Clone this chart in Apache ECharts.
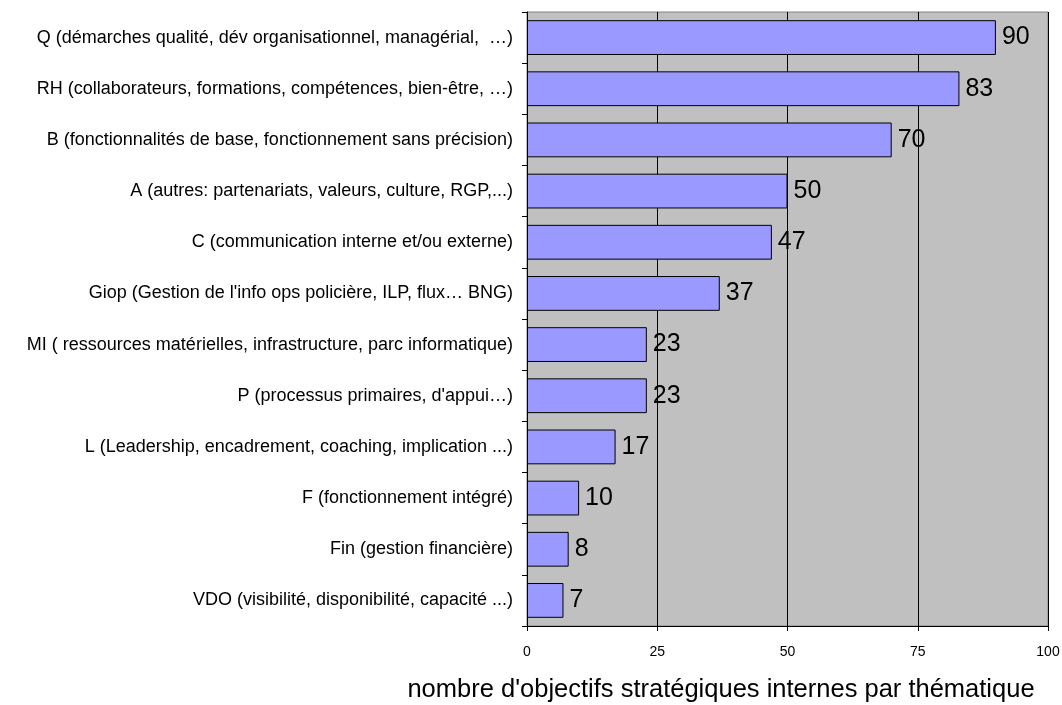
<!DOCTYPE html>
<html>
<head>
<meta charset="utf-8">
<script src="https://cdn.jsdelivr.net/npm/echarts@6/dist/echarts.min.js"></script>
<style>
  html, body { margin: 0; padding: 0; background: #fff; }
  #main { width: 1062px; height: 705px; }
</style>
</head>
<body>
<div id="main"></div>
<script>
var chartDom = document.getElementById('main');
var myChart = echarts.init(chartDom);
var option;

// categories from bottom to top
var categories = [
    "VDO (visibilité, disponibilité, capacité ...)",
    "Fin (gestion financière)",
    "F (fonctionnement intégré)",
    "L (Leadership, encadrement, coaching, implication ...)",
    "P (processus primaires, d'appui…)",
    "MI ( ressources matérielles, infrastructure, parc informatique)",
    "Giop (Gestion de l'info ops policière, ILP, flux… BNG)",
    "C (communication interne et/ou externe)",
    "A (autres: partenariats, valeurs, culture, RGP,...)",
    "B (fonctionnalités de base, fonctionnement sans précision)",
    "RH (collaborateurs, formations, compétences, bien-être, …)",
    "Q (démarches qualité, dév organisationnel, managérial,  …)"
];
var values = [7, 8, 10, 17, 23, 23, 37, 47, 50, 70, 83, 90];
var xTicks = [0, 25, 50, 75, 100];
var axisTitle = "nombre d'objectifs stratégiques internes par thématique";

var font = 'Liberation Sans, Arial, sans-serif';

option = {
    backgroundColor: '#ffffff',
    animation: false,
    textStyle: { fontFamily: font },
    grid: {
        left: 527,
        right: 14,
        top: 12,
        bottom: 79,
        outerBoundsMode: 'none',
        containLabel: false,
        show: true,
        backgroundColor: '#c0c0c0',
        borderColor: '#808080',
        borderWidth: 1
    },
    xAxis: {
        type: 'value',
        min: xTicks[0],
        max: xTicks[xTicks.length - 1],
        interval: 25,
        name: axisTitle,
        nameLocation: 'middle',
        nameGap: 51,
        // shift title left of the plot centre like the original
        nameTextStyle: { fontSize: 25.5, color: '#000', fontFamily: font, padding: [0, 133, 0, 0] },
        axisLine: { show: true, lineStyle: { color: '#000', width: 1 } },
        axisTick: { show: true, inside: false, length: 5, lineStyle: { color: '#000' } },
        axisLabel: { fontSize: 14, color: '#000', margin: 19 },
        splitLine: { show: true, lineStyle: { color: '#000', width: 1 } }
    },
    yAxis: {
        type: 'category',
        data: categories,
        axisLine: { show: true, lineStyle: { color: '#000', width: 1 } },
        axisTick: { show: true, inside: false, length: 5, lineStyle: { color: '#000' } },
        axisLabel: { fontSize: 18, color: '#000', margin: 14 },
        splitLine: { show: false }
    },
    series: [{
        type: 'bar',
        data: values,
        barCategoryGap: '32%',
        itemStyle: { color: '#9999ff', borderColor: '#000', borderWidth: 1 },
        label: {
            show: true,
            position: 'right',
            distance: 6,
            fontSize: 25,
            color: '#000'
        }
    }]
};

option && myChart.setOption(option);
</script>
</body>
</html>
